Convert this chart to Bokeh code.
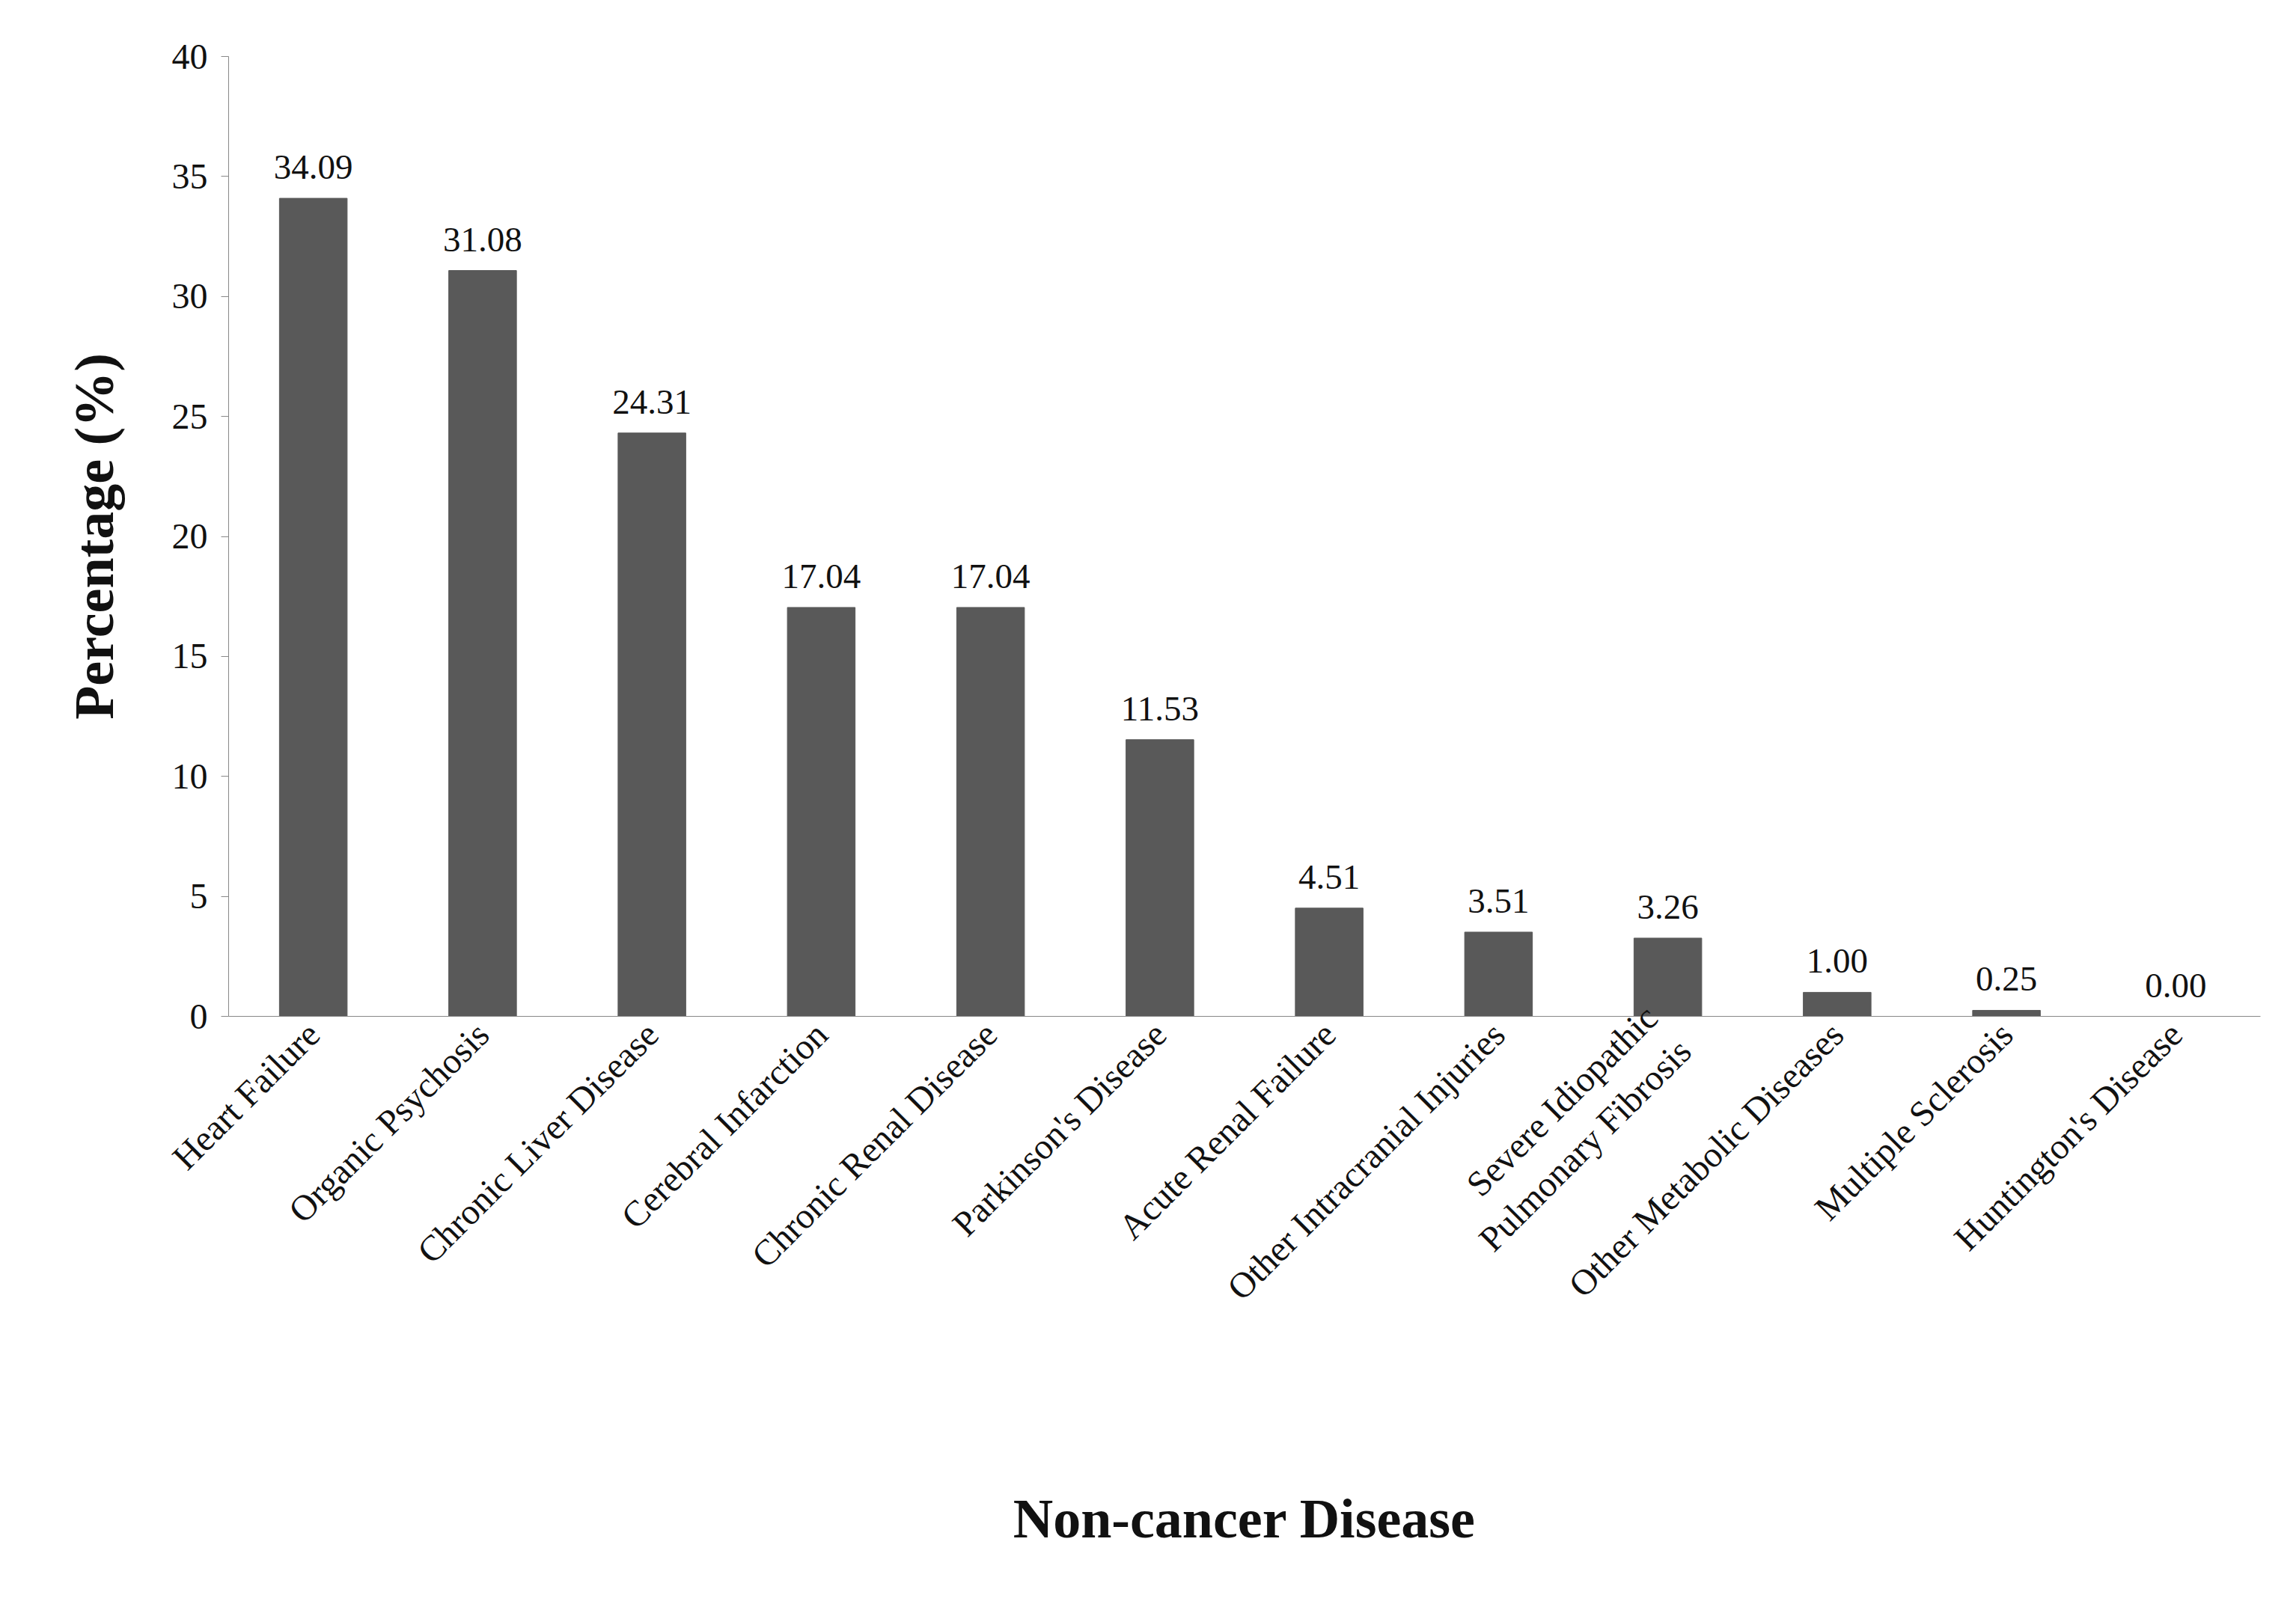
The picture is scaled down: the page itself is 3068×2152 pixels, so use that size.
from bokeh.plotting import figure
from bokeh.models import ColumnDataSource, FactorRange
from bokeh.core.properties import value
from bokeh.embed import file_html
from bokeh.resources import INLINE
import math

diseases = ["Heart Failure", "Organic Psychosis", "Chronic Liver Disease", "Cerebral Infarction",
            "Chronic Renal Disease", "Parkinson's Disease", "Acute Renal Failure",
            "Other Intracranial Injuries", "Severe Idiopathic\nPulmonary Fibrosis",
            "Other Metabolic Diseases", "Multiple Sclerosis", "Huntington's Disease"]
percent = [34.09, 31.08, 24.31, 17.04, 17.04, 11.53, 4.51, 3.51, 3.26, 1.00, 0.25, 0.00]
labels = ["%.2f" % v for v in percent]

FONT = "Liberation Serif"
src = ColumnDataSource(dict(x=diseases, y=percent, t=labels))

p = figure(x_range=FactorRange(*diseases, range_padding=0), y_range=(0, 40),
           width=3050, height=2130, output_backend="svg", toolbar_location=None,
           min_border_left=305, min_border_right=30, min_border_top=75, min_border_bottom=772)
p.vbar(x="x", top="y", width=0.4, color="#595959", source=src)
p.text(x="x", y="y", text="t", source=src, y_offset=-26, text_align="center",
       text_baseline="bottom", text_font=value(FONT), text_font_size="47px", text_color="#111111")

p.outline_line_color = None
p.xgrid.grid_line_color = None
p.ygrid.grid_line_color = None
p.yaxis.ticker = list(range(0, 41, 5))
p.yaxis.minor_tick_line_color = None
p.yaxis.major_tick_in = 0
p.yaxis.major_tick_out = 10
p.xaxis.major_tick_line_color = None
p.axis.axis_line_color = "#888888"
p.yaxis.major_tick_line_color = "#888888"
p.axis.major_label_text_font = FONT
p.axis.major_label_text_font_size = "48px"
p.axis.major_label_text_color = "#111111"
p.xaxis.major_label_orientation = math.pi / 4
p.xaxis.major_label_standoff = 10
p.yaxis.major_label_standoff = 18
p.yaxis.axis_label = "Percentage (%)"
p.xaxis.axis_label = "Non-cancer Disease"
p.axis.axis_label_text_font = FONT
p.axis.axis_label_text_font_style = "bold"
p.axis.axis_label_text_font_size = "74px"
p.axis.axis_label_text_color = "#111111"
p.xaxis.axis_label_standoff = 220
p.yaxis.axis_label_standoff = 60

open("out.html", "w").write(file_html(p, INLINE))
